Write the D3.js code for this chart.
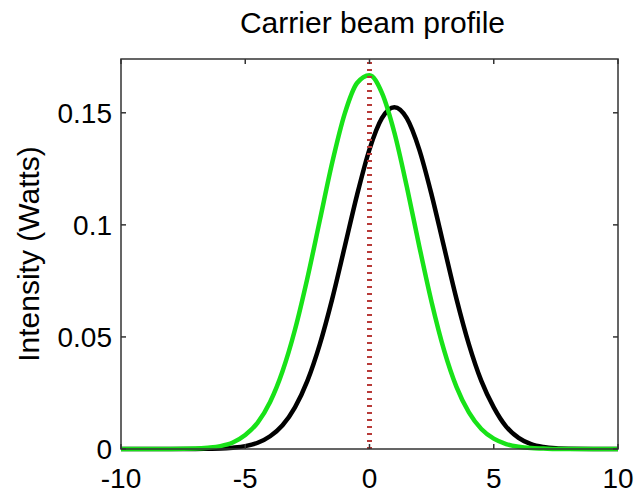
<!DOCTYPE html>
<html>
<head>
<meta charset="utf-8">
<script src="https://cdn.jsdelivr.net/npm/d3@7"></script>
<style>
  body { margin: 0; background: #fff; }
  svg text { font-family: "Liberation Sans", Arial, sans-serif; fill: #000; }
  .box { fill: none; stroke: #333; stroke-width: 1.5; }
</style>
</head>
<body>
<svg id="chart" width="635" height="500"></svg>
<script>
// positions along the beam (x) and the two intensity profiles
const positions = [-10, -9, -8, -7, -6.5, -6, -5.5, -5, -4.5, -4, -3.5, -3, -2.5, -2, -1.5, -1, -0.5, 0,
  0.5, 1, 1.5, 2, 2.5, 3, 3.5, 4, 4.5, 5, 5.5, 6, 6.5, 7, 7.5, 8, 9, 10];
const blackProfile = [0, 0, 0, 0, 0.0001, 0.0002, 0.0006, 0.0013, 0.0028, 0.0057, 0.0106, 0.0186, 0.0304, 0.0467, 0.0670, 0.0901, 0.1134, 0.1337,
  0.1476, 0.1525, 0.1476, 0.1337, 0.1134, 0.0901, 0.0670, 0.0467, 0.0304, 0.0186, 0.0100, 0.0050, 0.0022, 0.0009, 0.0003, 0.0001, 0, 0];
const greenProfile = [0, 0, 0, 0.0002, 0.0006, 0.0013, 0.0029, 0.0062, 0.0118, 0.0210, 0.0347, 0.0532, 0.0762, 0.1020, 0.1278, 0.1495, 0.1633, 0.1668,
  0.1589, 0.1412, 0.1171, 0.0906, 0.0655, 0.0441, 0.0277, 0.0163, 0.0089, 0.0046, 0.0022, 0.0010, 0.0004, 0.0002, 0, 0, 0, 0];
const markerX = 0; // dotted vertical reference line
const xTicks = [-10, -5, 0, 5, 10];
const yTicks = [0, 0.05, 0.1, 0.15];
const xDomain = [-10, 10];
const yDomain = [0, 0.174];

const svg = d3.select("#chart");
const plotLeft = 121, plotRight = 618, plotTop = 59, plotBottom = 449;

let x = d3.scaleLinear().domain(xDomain).range([plotLeft, plotRight]);
let y = d3.scaleLinear().domain(yDomain).range([plotBottom, plotTop]);

svg.append("defs").append("clipPath").attr("id", "plotClip")
  .append("rect").attr("x", plotLeft).attr("y", plotTop - 3)
  .attr("width", plotRight - plotLeft).attr("height", plotBottom - plotTop + 6);

let plot = svg.append("g").attr("clip-path", "url(#plotClip)");

let line = d3.line().curve(d3.curveMonotoneX)
  .x((d, i) => x(positions[i]))
  .y(d => y(d));

plot.append("path").datum(blackProfile)
  .attr("fill", "none").attr("stroke", "#000").attr("stroke-width", 4.5)
  .attr("stroke-linejoin", "round").attr("d", line);

plot.append("path").datum(greenProfile)
  .attr("fill", "none").attr("stroke", "#18e218").attr("stroke-width", 4.5)
  .attr("stroke-linejoin", "round").attr("d", line);

// red dotted line at x = 0
plot.append("line")
  .attr("x1", x(markerX)).attr("x2", x(markerX))
  .attr("y1", y(yDomain[0])).attr("y2", y(yDomain[1]))
  .attr("stroke", "#b83a38").attr("stroke-width", 5)
  .attr("stroke-dasharray", "2,5");

// axes box with inward ticks on all four sides
svg.append("rect").attr("class", "box")
  .attr("x", plotLeft).attr("y", plotTop)
  .attr("width", plotRight - plotLeft).attr("height", plotBottom - plotTop);

let tickLen = 5;
let ax = svg.append("g").attr("stroke", "#333").attr("stroke-width", 1.5);
xTicks.forEach(t => {
  ax.append("line").attr("x1", x(t)).attr("x2", x(t)).attr("y1", plotBottom).attr("y2", plotBottom - tickLen);
  ax.append("line").attr("x1", x(t)).attr("x2", x(t)).attr("y1", plotTop).attr("y2", plotTop + tickLen);
});
yTicks.forEach(t => {
  ax.append("line").attr("x1", plotLeft).attr("x2", plotLeft + tickLen).attr("y1", y(t)).attr("y2", y(t));
  ax.append("line").attr("x1", plotRight).attr("x2", plotRight - tickLen).attr("y1", y(t)).attr("y2", y(t));
});

svg.append("g").selectAll("text").data(xTicks).join("text")
  .attr("x", d => x(d)).attr("y", 488)
  .attr("text-anchor", "middle").attr("font-size", 28)
  .text(d => String(d));

svg.append("g").selectAll("text").data(yTicks).join("text")
  .attr("x", 112).attr("y", d => y(d) + 10)
  .attr("text-anchor", "end").attr("font-size", 28)
  .text(d => String(d));

svg.append("text")
  .attr("x", (plotLeft + plotRight) / 2 + 3).attr("y", 33)
  .attr("text-anchor", "middle").attr("font-size", 30)
  .text("Carrier beam profile");

svg.append("text")
  .attr("transform", "translate(39," + ((plotTop + plotBottom) / 2) + ") rotate(-90)")
  .attr("text-anchor", "middle").attr("font-size", 30)
  .text("Intensity (Watts)");
</script>
</body>
</html>
